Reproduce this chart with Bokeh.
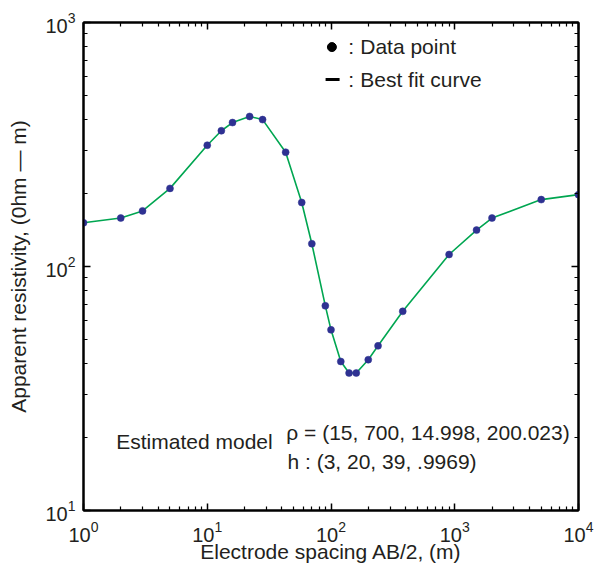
from bokeh.plotting import figure
from bokeh.models import (LogAxis, FixedTicker, LogTickFormatter,
                          CustomJSTickFormatter, ColumnDataSource, Range1d)
from bokeh.core.properties import value
from bokeh.embed import file_html
from bokeh.resources import INLINE

# ---- data ----
spacing = [1, 2, 3, 5, 10, 13, 16, 22, 28, 43, 58, 70, 90, 100, 120, 140, 160,
           200, 240, 380, 900, 1500, 2000, 5000, 10000]
resistivity = [151, 158, 169, 209, 314, 360, 389, 412, 400, 294, 183, 124, 69,
               55, 40.8, 36.6, 36.6, 41.5, 47.3, 65.5, 112, 141, 158, 188, 197]
x_major = [1, 10, 100, 1000, 10000]
y_major = [10, 100, 1000]
x_minor = [m * 10 ** d for d in range(0, 4) for m in range(2, 10)]
y_minor = [m * 10 ** d for d in range(1, 3) for m in range(2, 10)]

FONT = "Liberation Sans"
TXT = "#231f20"

p = figure(width=594, height=568, x_axis_type="log", y_axis_type="log",
           x_range=Range1d(x_major[0], x_major[-1]),
           y_range=Range1d(y_major[0], y_major[-1]),
           output_backend="svg", toolbar_location=None,
           min_border_left=83, min_border_right=16, min_border_top=22,
           min_border_bottom=58)
p.grid.visible = False
p.outline_line_color = "black"
p.outline_line_width = 2
p.background_fill_color = "white"
p.border_fill_color = "white"

bottom = p.below[0]
left = p.left[0]
top = LogAxis()
right = LogAxis()
p.add_layout(top, "above")
p.add_layout(right, "right")

for ax, maj, mnr in [(bottom, x_major, x_minor), (top, x_major, x_minor),
                     (left, y_major, y_minor), (right, y_major, y_minor)]:
    ax.ticker = FixedTicker(ticks=maj, minor_ticks=mnr)
    ax.major_tick_in = 7
    ax.major_tick_out = 0
    ax.minor_tick_in = 4
    ax.minor_tick_out = 0
    ax.major_tick_line_width = 1.5
    ax.minor_tick_line_width = 1.2
    ax.axis_line_width = 2
    ax.axis_line_color = "black"
    ax.major_tick_line_color = "black"
    ax.minor_tick_line_color = "black"

for ax in (top, right):
    ax.formatter = CustomJSTickFormatter(code="return ''")
    ax.major_label_standoff = 0

for ax in (bottom, left):
    ax.formatter = LogTickFormatter()
    ax.major_label_text_font = FONT
    ax.major_label_text_font_size = "20px"
    ax.major_label_text_color = TXT
    ax.axis_label_text_font = FONT
    ax.axis_label_text_font_size = "21px"
    ax.axis_label_text_font_style = "normal"
    ax.axis_label_text_color = TXT

bottom.axis_label = "Electrode spacing AB/2, (m)"
left.axis_label = "Apparent resistivity, (0hm \u2014 m)"
bottom.major_label_standoff = 10
left.major_label_standoff = 8
bottom.axis_label_standoff = -5
left.axis_label_standoff = 12

src = ColumnDataSource(dict(x=spacing, y=resistivity))
p.line("x", "y", source=src, line_color="#00a651", line_width=1.6)
p.scatter("x", "y", source=src, size=7, fill_color="#2e3192",
          line_color="#2e3192", line_alpha=0.5)

# legend-like annotations
p.scatter(x=[101.7], y=[793], marker="circle", size=9, color="black")
p.scatter(x=[103], y=[584], marker="dash", size=14, line_width=3,
          line_color="black")
p.text(x=[145.6, 145.6], y=[798, 585], text=[":", ":"], text_align="center",
       text_baseline="alphabetic", text_font=value(FONT),
       text_font_size="21px", text_color=TXT)
p.text(x=[172.3, 172.3], y=[798, 585], text=["Data point", "Best fit curve"],
       text_align="left", text_baseline="alphabetic", text_font=value(FONT),
       text_font_size="21px", text_color=TXT)

p.text(x=[1.84], y=[19.2], text=["Estimated model"], text_align="left",
       text_baseline="alphabetic", text_font=value(FONT),
       text_font_size="21px", text_color=TXT)
p.text(x=[43.5, 44.5], y=[20.9, 15.85],
       text=["\u03c1 = (15, 700, 14.998, 200.023)", "h : (3, 20, 39, .9969)"],
       text_align="left", text_baseline="alphabetic", text_font=value(FONT),
       text_font_size="21px", text_color=TXT)

open("out.html", "w").write(file_html(p, INLINE))
